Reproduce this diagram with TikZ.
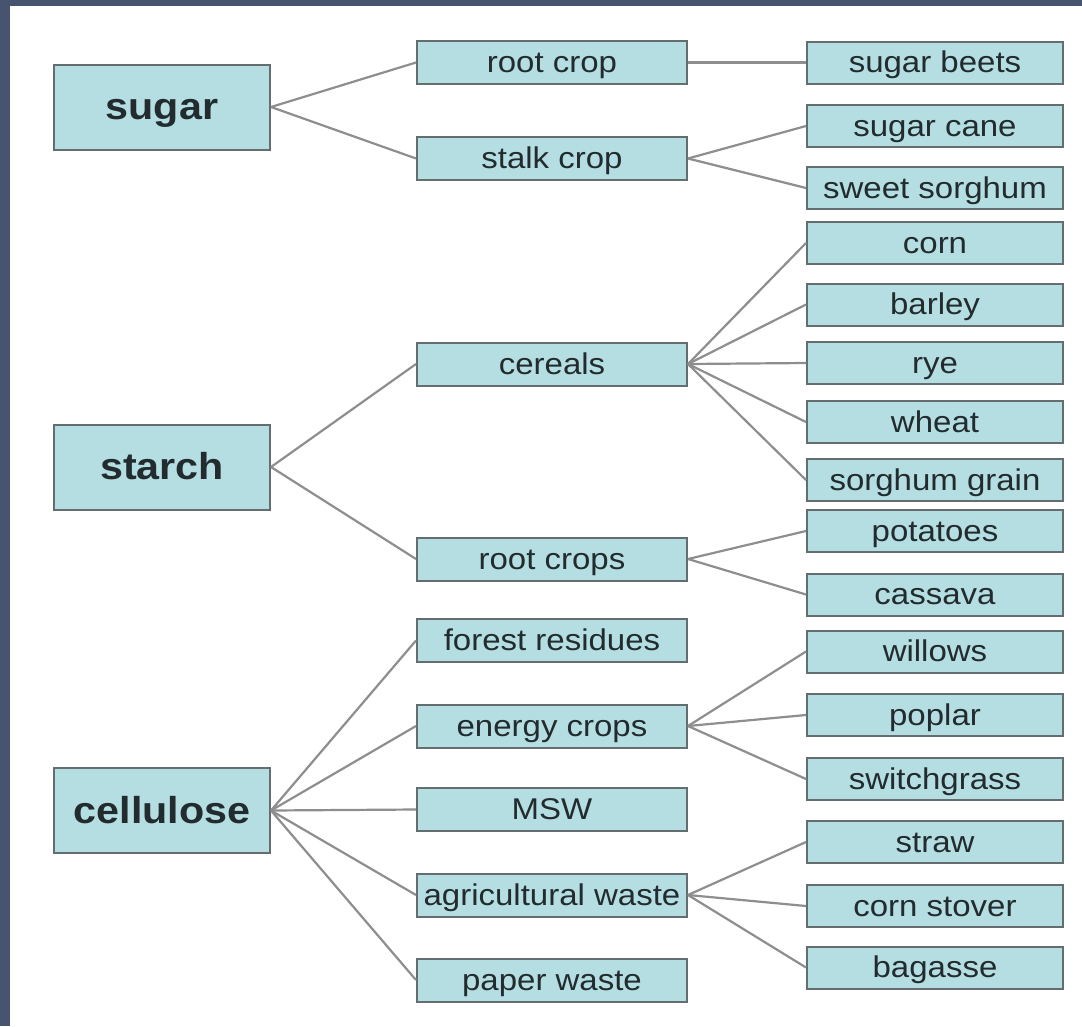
\documentclass[tikz,border=0pt]{standalone}
\usepackage{fontspec}
\setmainfont[FakeStretch=1.1]{Liberation Sans}
\definecolor{boxfill}{HTML}{B5DEE3}
\definecolor{boxline}{HTML}{646E70}
\definecolor{conn}{HTML}{8E8E8E}
\definecolor{txt}{HTML}{222B2D}
\definecolor{frame}{HTML}{46546F}
\begin{document}
\begin{tikzpicture}[x=1pt,y=-1pt,
  base/.style={draw=boxline, fill=boxfill, line width=2pt, text=txt, inner sep=0pt},
  mainbox/.style={base, minimum width=216pt, minimum height=85pt, text height=30pt, text depth=5pt, font=\fontsize{37.5}{42}\selectfont\bfseries},
  midbox/.style={base, minimum width=270pt, minimum height=43pt, text height=25pt, text depth=4.6pt, font=\fontsize{30}{34}\selectfont},
  leafbox/.style={base, minimum width=256pt, minimum height=42pt, text height=25pt, text depth=4.6pt, font=\fontsize{30}{34}\selectfont},
  link/.style={draw=conn, line width=2.2pt}]
\useasboundingbox (0,0) rectangle (1082,1026);
\fill[white] (0,0) rectangle (1082,1026);
\fill[frame] (0,0) rectangle (10,1026);
\fill[frame] (0,0) rectangle (1082,6);
% main column
\node[mainbox] (sugar) at (162,107) {sugar};
\node[mainbox] (starch) at (162,467) {starch};
\node[mainbox] (cellulose) at (162,810.5) {cellulose};
% middle column
\node[midbox] (rootcrop) at (552,62.5) {root crop};
\node[midbox] (stalk) at (552,158.5) {stalk crop};
\node[midbox] (cereals) at (552,364) {cereals};
\node[midbox] (rootcrops) at (552,559) {root crops};
\node[midbox] (forest) at (552,640.5) {forest residues};
\node[midbox] (energy) at (552,726) {energy crops};
\node[midbox] (msw) at (552,809.5) {MSW};
\node[midbox] (agri) at (552,895) {agricultural waste};
\node[midbox] (paper) at (552,980) {paper waste};
% right column
\node[leafbox] (beets) at (935,62.5) {sugar beets};
\node[leafbox] (cane) at (935,126) {sugar cane};
\node[leafbox] (sweet) at (935,188) {sweet sorghum};
\node[leafbox] (corn) at (935,243) {corn};
\node[leafbox] (barley) at (935,304.5) {barley};
\node[leafbox] (rye) at (935,363) {rye};
\node[leafbox] (wheat) at (935,422) {wheat};
\node[leafbox] (sgrain) at (935,480) {sorghum grain};
\node[leafbox] (potatoes) at (935,531) {potatoes};
\node[leafbox] (cassava) at (935,594.5) {cassava};
\node[leafbox] (willows) at (935,651.5) {willows};
\node[leafbox] (poplar) at (935,715) {poplar};
\node[leafbox] (switch) at (935,779) {switchgrass};
\node[leafbox] (straw) at (935,842) {straw};
\node[leafbox] (stover) at (935,906) {corn stover};
\node[leafbox] (bagasse) at (935,967.5) {bagasse};
% connectors
\foreach \a/\b in {sugar/rootcrop, sugar/stalk, starch/cereals, starch/rootcrops,
  cellulose/forest, cellulose/energy, cellulose/msw, cellulose/agri, cellulose/paper,
  rootcrop/beets, stalk/cane, stalk/sweet,
  cereals/corn, cereals/barley, cereals/rye, cereals/wheat, cereals/sgrain,
  rootcrops/potatoes, rootcrops/cassava,
  energy/willows, energy/poplar, energy/switch,
  agri/straw, agri/stover, agri/bagasse}
  \draw[link] (\a.east) -- (\b.west);
\end{tikzpicture}
\end{document}
